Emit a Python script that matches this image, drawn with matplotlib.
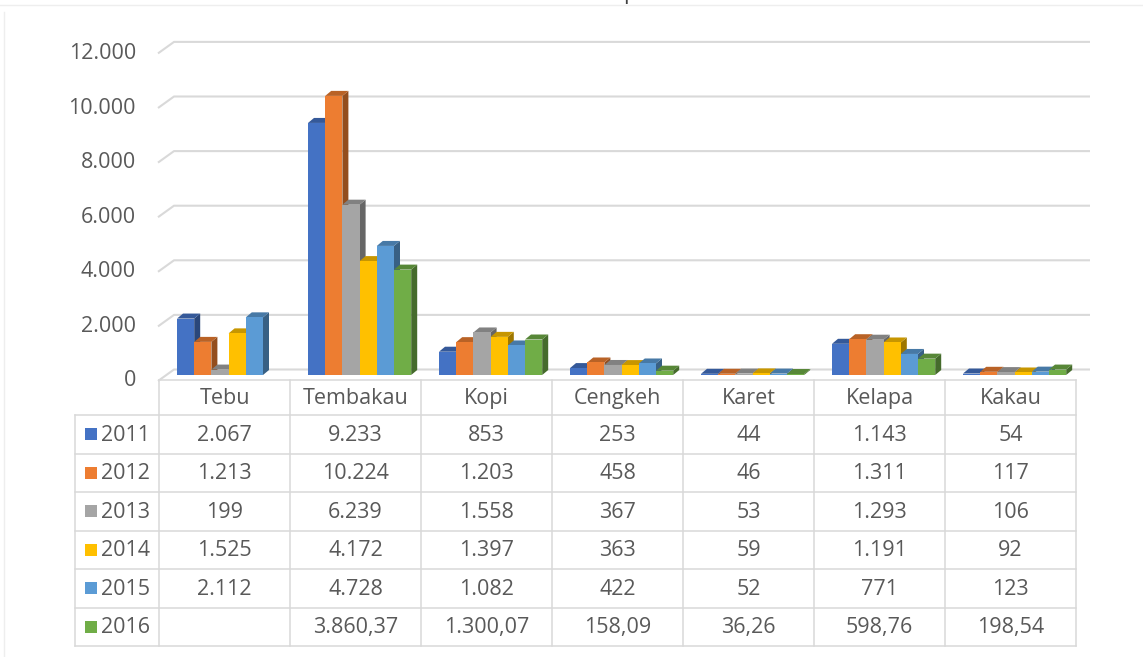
import matplotlib
matplotlib.use("Agg")
import matplotlib.pyplot as plt
from matplotlib.patches import Polygon, Rectangle
from matplotlib.colors import to_rgb

plt.rcParams['font.family'] = ['Open Sans', 'DejaVu Sans']

# ---- data -------------------------------------------------------------
categories = ["Tebu", "Tembakau", "Kopi", "Cengkeh", "Karet", "Kelapa", "Kakau"]
years = ["2011", "2012", "2013", "2014", "2015", "2016"]
v2011 = [2067, 9233, 853, 253, 44, 1143, 54]
v2012 = [1213, 10224, 1203, 458, 46, 1311, 117]
v2013 = [199, 6239, 1558, 367, 53, 1293, 106]
v2014 = [1525, 4172, 1397, 363, 59, 1191, 92]
v2015 = [2112, 4728, 1082, 422, 52, 771, 123]
v2016 = [None, 3860.37, 1300.07, 158.09, 36.26, 598.76, 198.54]
series = [v2011, v2012, v2013, v2014, v2015, v2016]
decimals = [0, 0, 0, 0, 0, 2]
colors = ["#4472C4", "#ED7D31", "#A5A5A5", "#FFC000", "#5B9BD5", "#70AD47"]
y_ticks = [0, 2000, 4000, 6000, 8000, 10000, 12000]

TEXT = "#595959"
GRID = "#D9D9D9"
FS = 15.5


def fmt_id(v, d=0):
    """Indonesian number format: '.' for thousands, ',' for decimals."""
    s = f"{v:,.{d}f}"
    return s.replace(",", "#").replace(".", ",").replace("#", ".")


def shade(c, f):
    r, g, b = to_rgb(c)
    return (r * f, g * f, b * f)


W, H = 1143, 657
fig = plt.figure(figsize=(W / 100, H / 100), dpi=100)
fig.patch.set_facecolor("white")

# pixel-space overlay for the frame and the data table
ov = fig.add_axes([0, 0, 1, 1], zorder=0)
ov.set_xlim(0, W)
ov.set_ylim(H, 0)
ov.axis("off")

# chart area for the bars
left_px, right_px, zero_px, span_px = 159, 1076, 375, 327.6
ax = fig.add_axes([left_px / W, (H - zero_px) / H, (right_px - left_px) / W, span_px / H], zorder=1)
ax.set_xlim(-0.5, len(categories) - 0.5)
ax.set_ylim(0, y_ticks[-1])
ax.axis("off")
ax.patch.set_alpha(0)

px = len(categories) / (right_px - left_px)   # x data units per pixel
pv = y_ticks[-1] / span_px                     # value units per pixel

# back-wall gridlines with perspective stub, plus value labels
for t in y_ticks:
    back = t + 5.5 * pv
    front = t - 6 * pv
    ax.plot([-0.5 - 1 * px, -0.5 + 15 * px, -0.5 + 931 * px], [front, back, back],
            color=GRID, lw=1.5, clip_on=False, zorder=0.5, solid_capstyle="butt")
    ax.text(-0.5 - 23 * px, front, fmt_id(t), ha="right", va="center",
            fontsize=FS, color=TEXT, clip_on=False)

# 3D-looking clustered bars
bw = 17.2 * px
start = 18 * px
ddx, ddv = 6 * px, 5 * pv
for j, (vals, col) in enumerate(zip(series, colors)):
    xs, hs = [], []
    for i, v in enumerate(vals):
        if v is None:
            continue
        xs.append(i - 0.5 + start + j * bw)
        hs.append(v)
    ax.bar(xs, hs, width=bw, align="edge", color=col, linewidth=0, zorder=3 + 3 * j)
    for x0, v in zip(xs, hs):
        x1 = x0 + bw
        ax.add_patch(Polygon([(x1, 0), (x1, v), (x1 + ddx, v + ddv), (x1 + ddx, ddv)],
                             closed=True, facecolor=shade(col, 0.62), linewidth=0,
                             zorder=1 + 3 * j, clip_on=False))
        ax.add_patch(Polygon([(x0, v), (x1, v), (x1 + ddx, v + ddv), (x0 + ddx, v + ddv)],
                             closed=True, facecolor=shade(col, 0.78), linewidth=0,
                             zorder=2 + 3 * j, clip_on=False))

# outer frame
ov.plot([0, W], [5, 5], color="#EEEEEE", lw=1)
ov.plot([4, 4], [12, H], color="#EEEEEE", lw=1)

# partial title at the top edge
ov.text(630, -1.5, "p", ha="center", va="baseline", fontsize=FS, color="#404040")

# ---- data table -------------------------------------------------------
col_x = [left_px + 131 * k for k in range(len(categories) + 1)]
head_top, head_bot = 380, 415
row_h = 38.5
row_y = [head_bot + row_h * k for k in range(len(years) + 1)]
tab_left = 75
lw_t = 1.1

ov.plot([col_x[0], col_x[-1]], [head_top, head_top], color=GRID, lw=lw_t)
for y in row_y:
    ov.plot([tab_left, col_x[-1]], [y, y], color=GRID, lw=lw_t)
ov.plot([tab_left, tab_left], [row_y[0], row_y[-1]], color=GRID, lw=lw_t)
for x in col_x:
    ov.plot([x, x], [head_top, row_y[-1]], color=GRID, lw=lw_t)

for i, c in enumerate(categories):
    ov.text((col_x[i] + col_x[i + 1]) / 2, (head_top + head_bot) / 2 + 1, c,
            ha="center", va="center", fontsize=FS, color=TEXT)

for j, (yr, vals, col, d) in enumerate(zip(years, series, colors, decimals)):
    cy = row_y[j] + row_h / 2
    ov.add_patch(Rectangle((85, cy - 6), 12, 12, facecolor=col, linewidth=0))
    ov.text(101, cy + 1, yr, ha="left", va="center", fontsize=FS, color=TEXT)
    for i, v in enumerate(vals):
        if v is None:
            continue
        ov.text((col_x[i] + col_x[i + 1]) / 2, cy + 1, fmt_id(v, d),
                ha="center", va="center", fontsize=FS, color=TEXT)

fig.savefig("out.png", dpi=100, facecolor="white")
